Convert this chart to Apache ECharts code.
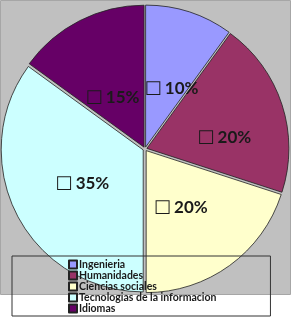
<!DOCTYPE html>
<html>
<head>
<meta charset="utf-8">
<script src="https://cdn.jsdelivr.net/npm/echarts@6/dist/echarts.min.js"></script>
<style>
  html, body { margin: 0; padding: 0; background: #fff; }
  #chart { width: 292px; height: 318px; }
</style>
</head>
<body>
<div id="chart"></div>
<script>
const categories = ["Ingenieria", "Humanidades", "Ciencias sociales", "Tecnologias de la informacion", "Idiomas"]
const shares = [10, 20, 20, 35, 15]
const palette = ["#9999FF", "#993366", "#FFFFCC", "#CCFFFF", "#660066"]
// small label nudges so the percentages sit where the original placed them
const labelNudge = [[3, 12], [7, 12], [-9, -3], [5, 0], [2, 16]]

const chart = echarts.init(document.getElementById("chart"), null, { renderer: "canvas" })

chart.setOption({
  backgroundColor: "#fff",
  animation: false,
  color: palette,
  graphic: [{
    type: "rect",
    z: -10,
    shape: { x: 0.5, y: 0.5, width: 290, height: 294 },
    style: { fill: "#C0C0C0", stroke: "#A6A6A6", lineWidth: 1 },
  }],
  legend: {
    type: "plain",
    orient: "vertical",
    left: 12,
    top: 256,
    height: 80,
    padding: [3, 54, 2, 56],
    borderColor: "#333",
    borderWidth: 1,
    itemGap: 0,
    itemWidth: 8,
    itemHeight: 8,
    icon: "rect",
    selectedMode: false,
    textStyle: { fontFamily: "Lato", fontWeight: "bold", fontSize: 10.5, lineHeight: 10, color: "#1a1a1a", padding: [0, 0, 0, -3] },
    data: categories,
  },
  series: [{
    type: "pie",
    center: [145, 149],
    radius: 142,
    startAngle: 90,
    clockwise: true,
    selectedMode: "multiple",
    selectedOffset: 2,
    emphasis: { disabled: true },
    itemStyle: { borderColor: "#222", borderWidth: 0.8 },
    label: {
      position: "inside",
      formatter: "{b|\u25A1} {v|{c}%}",
      rich: {
        b: { fontFamily: "DejaVu Sans", fontSize: 18, color: "#1a1a1a" },
        v: { fontFamily: "Lato", fontWeight: "bold", fontSize: 17, color: "#1a1a1a" },
      },
    },
    labelLayout: (params) => ({ dx: labelNudge[params.dataIndex][0], dy: labelNudge[params.dataIndex][1] }),
    labelLine: { show: false },
    data: categories.map((name, i) => ({ name, value: shares[i], selected: true })),
  }],
})
</script>
</body>
</html>
